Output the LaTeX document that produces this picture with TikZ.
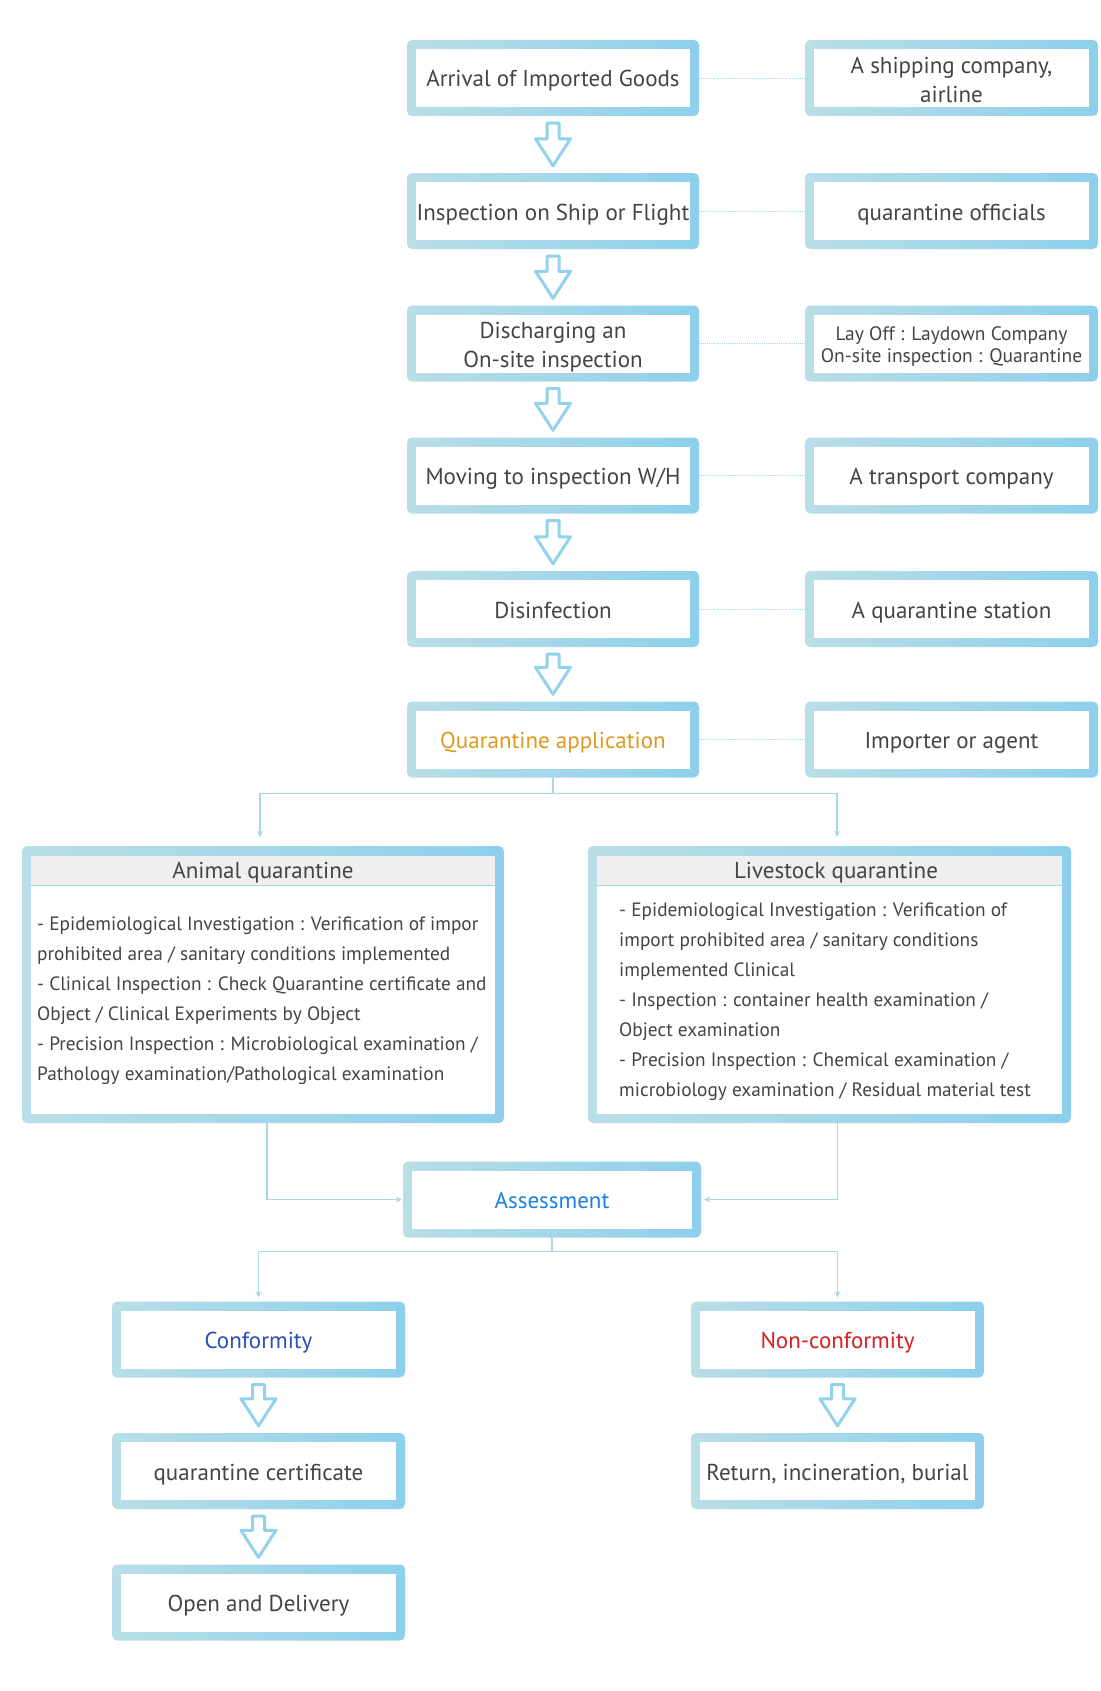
\documentclass[tikz,border=0pt]{standalone}
\usepackage{fontspec}
\setmainfont{PT Sans}
\usetikzlibrary{calc,arrows.meta}
\definecolor{gL}{HTML}{B9DEE6}
\definecolor{gR}{HTML}{8DD0EC}
\definecolor{arr}{HTML}{93D2EB}
\definecolor{ln}{HTML}{A6D8EA}
\definecolor{tx}{HTML}{444444}
\definecolor{qorange}{HTML}{E0991E}
\definecolor{ablue}{HTML}{1C7FE6}
\definecolor{cblue}{HTML}{2B4FB5}
\definecolor{nred}{HTML}{D81E1E}
\definecolor{hdr}{HTML}{EFEFEF}
\tikzset{
 gbox/.style={rectangle, rounded corners=5pt, left color=gL, right color=gR, inner sep=0pt,
   minimum width=#1, minimum height=76pt, text=tx, font=\fontsize{23}{29}\selectfont, align=center,
   path picture={\fill[white, sharp corners] ([shift={(9pt,-9pt)}]path picture bounding box.north west) rectangle ([shift={(-9pt,9pt)}]path picture bounding box.south east);}},
 gbox/.default=293pt,
 one/.style={text height=20pt, text depth=2pt},
 bigbox/.style={rectangle, rounded corners=5pt, left color=gL, right color=gR, inner sep=0pt,
   minimum width=#1, minimum height=277pt,
   path picture={
     \fill[white, sharp corners] ([shift={(9pt,-10pt)}]path picture bounding box.north west) rectangle ([shift={(-9pt,9pt)}]path picture bounding box.south east);
     \fill[hdr, sharp corners] ([shift={(9pt,-10pt)}]path picture bounding box.north west) rectangle ([shift={(-9pt,-39pt)}]path picture bounding box.north east);
     \draw[ln, line width=1pt] ([shift={(9pt,-39pt)}]path picture bounding box.north west) -- ([shift={(-9pt,-39pt)}]path picture bounding box.north east);}},
 hdrtext/.style={text=tx, font=\fontsize{23}{29}\selectfont, inner sep=0pt},
 bodytext/.style={text=tx, font=\fontsize{19.3}{30}\selectfont, align=left, inner sep=0pt, anchor=north west},
 harr/.style={draw=arr, line width=3pt, line join=round, fill=white},
 conn/.style={draw=ln, line width=1.2pt, -{Stealth[length=6pt,width=6pt]}},
 plain/.style={draw=ln, line width=1.2pt},
 dotline/.style={draw=ln, line width=0.9pt, densely dotted},
}
\newcommand\harrow[2]{%
 \draw[harr] let \p1=(#1.south), \p2=(#2.north) in
 (\x1-6pt,\y1-7pt) -- (\x1+6pt,\y1-7pt) -- (\x1+6pt,\y2+34pt) -- (\x1+17.5pt,\y2+34pt) --
 (\x1,\y2+7pt) -- (\x1-17.5pt,\y2+34pt) -- (\x1-6pt,\y2+34pt) -- cycle;}
\newcommand\topstrut[1]{\rule{0pt}{#1}}
\begin{document}
\begin{tikzpicture}[x=1pt,y=-1pt]
\useasboundingbox[fill=white] (0,0) rectangle (1100,1691);
% main column
\node[gbox=292pt, one] (n1) at (553,78) {Arrival of Imported Goods};
\node[gbox=292pt, one] (n2) at (553,211) {Inspection on Ship or Flight};
\node[gbox=292pt] (n3) at (553,343.5) {\topstrut{24pt}Discharging an\\On-site inspection};
\node[gbox=292pt, one] (n4) at (553,475.5) {Moving to inspection W/H};
\node[gbox=292pt, one] (n5) at (553,609) {Disinfection};
\node[gbox=292pt, one, text=qorange] (n6) at (553,739.5) {Quarantine application};
% right column
\node[gbox] (r1) at (951.5,78) {\topstrut{21pt}A shipping company,\\airline};
\node[gbox, one] (r2) at (951.5,211) {quarantine officials};
\node[gbox, font=\fontsize{19.5}{22}\selectfont] (r3) at (951.5,343.5) {\topstrut{20pt}Lay Off : Laydown Company\\On-site inspection : Quarantine};
\node[gbox, one] (r4) at (951.5,475.5) {A transport company};
\node[gbox, one] (r5) at (951.5,609) {A quarantine station};
\node[gbox, one] (r6) at (951.5,739.5) {Importer or agent};
% dotted links
\foreach \i in {1,...,6} {\draw[dotline] (n\i.east) -- (r\i.west);}
% hollow arrows
\harrow{n1}{n2}
\harrow{n2}{n3}
\harrow{n3}{n4}
\harrow{n4}{n5}
\harrow{n5}{n6}
% big boxes
\node[bigbox=482pt] (aq) at (263,984.5) {};
\node[bigbox=483pt] (lq) at (829.5,984.5) {};
\node[hdrtext, one] (aqh) at (263,869) {Animal quarantine};
\node[hdrtext, one] (lqh) at (836,869) {Livestock quarantine};
\node[bodytext] (aqb) at (37,917) {- Epidemiological Investigation : Verification of impor\\
prohibited area / sanitary conditions implemented\\
- Clinical Inspection : Check Quarantine certificate and\\
Object / Clinical Experiments by Object\\
- Precision Inspection : Microbiological examination /\\
Pathology examination/Pathological examination};
\node[bodytext] (lqb) at (619,903) {- Epidemiological Investigation : Verification of\\
import prohibited area / sanitary conditions\\
implemented Clinical\\
- Inspection : container health examination /\\
Object examination\\
- Precision Inspection : Chemical examination /\\
microbiology examination / Residual material test};
% split to big boxes
\coordinate (s1) at ($(n6.south)+(0,16)$);
\draw[plain] (n6.south) -- (s1);
\draw[conn] (s1) -| ([xshift=-3pt,yshift=9pt]aq.north);
\draw[conn] (s1) -| ([xshift=7.5pt,yshift=9pt]lq.north);
% assessment
\node[gbox=298pt, one, text=ablue] (as) at (552,1199.5) {Assessment};
\draw[conn] ([xshift=4pt]aq.south) |- ([xshift=-1pt]as.west);
\draw[conn] ([xshift=8pt]lq.south) |- ([xshift=3pt]as.east);
% outcomes
\node[gbox, one, text=cblue] (c1) at (258.5,1339.5) {Conformity};
\node[gbox, one, text=nred] (d1) at (837.5,1339.5) {Non-conformity};
\node[gbox, one] (c2) at (258.5,1471) {quarantine certificate};
\node[gbox, one] (d2) at (837.5,1471) {Return, incineration, burial};
\node[gbox, one] (c3) at (258.5,1602.5) {Open and Delivery};
\coordinate (s2) at ($(as.south)+(0,14)$);
\draw[plain] (as.south) -- (s2);
\draw[conn] (s2) -| ([yshift=4pt]c1.north);
\draw[conn] (s2) -| ([yshift=4pt]d1.north);
\harrow{c1}{c2}
\harrow{c2}{c3}
\harrow{d1}{d2}
\end{tikzpicture}
\end{document}
